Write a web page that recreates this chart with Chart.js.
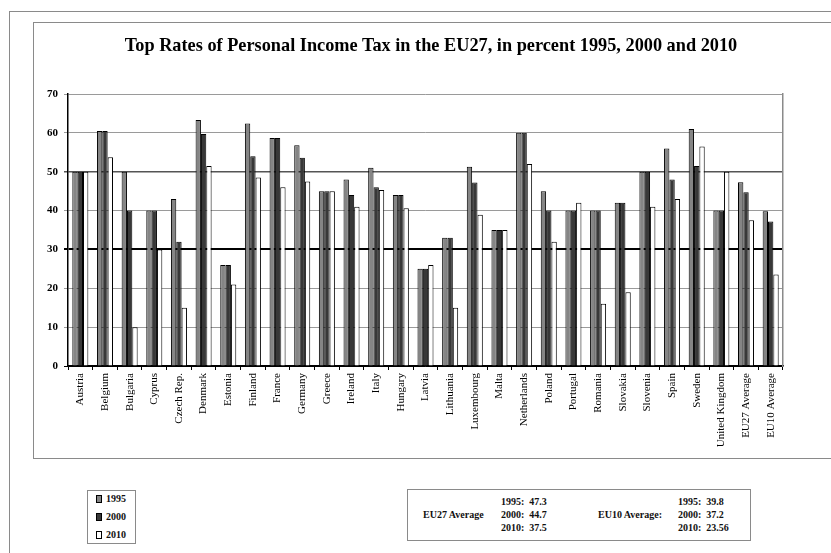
<!DOCTYPE html>
<html>
<head>
<meta charset="utf-8">
<script src="https://cdn.jsdelivr.net/npm/chart.js@4"></script>
<style>
  html, body { margin: 0; padding: 0; background: #fff; }
  body { width: 831px; height: 553px; position: relative; overflow: hidden; font-family: "Liberation Serif", "Times New Roman", serif; }
  .frame { position: absolute; border: 1.5px solid #8a8a8a; }
  #outer { left: 9px; top: 11px; width: 900px; height: 600px; }
  #inner { left: 33px; top: 22px; width: 900px; height: 435px; }
  #wrap { position: absolute; left: 0; top: 0; width: 831px; height: 553px; }
  #title { position: absolute; left: 0; width: 862px; top: 34px; text-align: center; font-weight: bold; font-size: 18.3px; line-height: 22px; color: #000; white-space: nowrap; }
  .box { position: absolute; border: 1px solid #8a8a8a; background: #fff; font-weight: bold; font-size: 10px; color: #111; }
  #legend { left: 87px; top: 490px; width: 47px; height: 52px; }
  #legend div { position: absolute; left: 8px; line-height: 12px; }
  #legend span.sw { display: inline-block; width: 4px; height: 6px; border: 1px solid #000; margin-right: 4px; vertical-align: -1px; }
  #summary { left: 407px; top: 489px; width: 342px; height: 50px; }
  #summary div { position: absolute; line-height: 12px; white-space: pre; }
</style>
</head>
<body>
<div class="frame" id="outer"></div>
<div class="frame" id="inner"></div>
<div id="wrap"><canvas id="chart" width="831" height="553"></canvas></div>
<div id="title">Top Rates of Personal Income Tax in the EU27, in percent 1995, 2000 and 2010</div>
<div class="box" id="legend"></div>
<div class="box" id="summary"></div>
<script>
const countries = ["Austria", "Belgium", "Bulgaria", "Cyprus", "Czech Rep.", "Denmark", "Estonia",
  "Finland", "France", "Germany", "Greece", "Ireland", "Italy", "Hungary", "Latvia", "Lithuania",
  "Luxembourg", "Malta", "Netherlands", "Poland", "Portugal", "Romania", "Slovakia", "Slovenia",
  "Spain", "Sweden", "United Kingdom", "EU27 Average", "EU10 Average"];

const years = ["1995", "2000", "2010"];

const rates1995 = [50, 60.5, 50, 40, 43, 63.3, 26, 62.4, 58.7, 56.8, 45, 48, 51, 44, 25, 33,
  51.3, 35, 60, 45, 40, 40, 42, 50, 56, 61, 40, 47.3, 39.8];
const rates2000 = [50, 60.5, 40, 40, 32, 59.7, 26, 54, 58.7, 53.6, 45, 44, 46, 44, 25, 33,
  47.2, 35, 60, 40, 40, 40, 42, 50, 48, 51.5, 40, 44.7, 37.2];
const rates2010 = [50, 53.7, 10, 30, 15, 51.5, 21, 48.5, 46, 47.5, 45, 41, 45.3, 40.6, 26, 15,
  38.9, 35, 52, 32, 42, 16, 19, 41, 43, 56.5, 50, 37.5, 23.56];

const yTicks = [0, 10, 20, 30, 40, 50, 60, 70];

const fills = ["#858585", "#383838", "#ffffff"];

const ctx = document.getElementById("chart").getContext("2d");

const chart = new Chart(ctx, {
  type: "bar",
  data: {
    labels: countries,
    datasets: [rates1995, rates2000, rates2010].map((vals, i) => ({
      label: years[i],
      data: vals,
      backgroundColor: fills[i],
      borderColor: "#000",
      borderWidth: 1,
      categoryPercentage: 0.65,
      barPercentage: 1.0
    }))
  },
  options: {
    responsive: false,
    animation: false,
    devicePixelRatio: 1,
    layout: { padding: { left: 33, right: 48, top: 94, bottom: 87 } },
    plugins: {
      legend: { display: false },
      tooltip: { enabled: false },
      title: { display: false }
    },
    scales: {
      x: {
        grid: { drawOnChartArea: false, drawTicks: true, tickLength: 4, color: "#000" },
        border: { color: "#000", width: 1.5 },
        ticks: {
          color: "#000",
          autoSkip: false,
          minRotation: 90,
          maxRotation: 90,
          padding: 3,
          font: { family: "Liberation Serif", size: 11 }
        },
        afterFit: s => { s.height = 100; }
      },
      y: {
        min: 0,
        max: 70,
        afterBuildTicks: s => { s.ticks = yTicks.map(v => ({ value: v })); },
        grid: {
          tickLength: 4,
          color: c => c.tick.value === 30 ? "#000" : (c.tick.value === 50 ? "#555" : (c.tick.value === 0 ? "#000" : "#9a9a9a")),
          lineWidth: c => c.tick.value === 30 ? 2 : (c.tick.value === 50 ? 1.5 : 1)
        },
        border: { color: "#000", width: 1.5 },
        ticks: {
          color: "#000",
          padding: 6,
          font: { family: "Liberation Serif", size: 11, weight: "bold" }
        },
        afterFit: s => { s.width = 35; }
      },
      yRight: {
        position: "right",
        min: 0,
        max: 70,
        grid: { drawOnChartArea: false, drawTicks: false },
        border: { color: "#8a8a8a", width: 1.5 },
        ticks: { display: false },
        afterFit: s => { s.width = 0; }
      }
    }
  }
});

// legend built from the chart datasets
const legendEl = document.getElementById("legend");
chart.data.datasets.forEach((ds, i) => {
  const row = document.createElement("div");
  row.style.top = (2 + i * 18) + "px";
  row.innerHTML = `<span class="sw" style="background:${ds.backgroundColor}"></span>${ds.label}`;
  legendEl.appendChild(row);
});

// averages box
const avgEU27 = [rates1995[27], rates2000[27], rates2010[27]];
const avgEU10 = [rates1995[28], rates2000[28], rates2010[28]];
const summaryEl = document.getElementById("summary");
function addText(txt, left, top) {
  const d = document.createElement("div");
  d.textContent = txt;
  d.style.left = left + "px";
  d.style.top = top + "px";
  summaryEl.appendChild(d);
}
addText("EU27 Average", 15, 19);
addText("EU10 Average:", 190, 19);
years.forEach((y, i) => {
  addText(y + ":  " + avgEU27[i], 93, 6 + i * 13);
  addText(y + ":  " + avgEU10[i], 270, 6 + i * 13);
});
</script>
</body>
</html>
